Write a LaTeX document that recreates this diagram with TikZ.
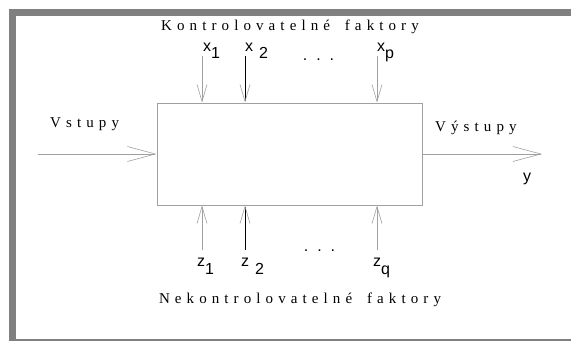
\documentclass[tikz,border=0pt]{standalone}
\usepackage{fontspec}
\setmainfont{Liberation Serif}
\newfontfamily\spacedserif[LetterSpace=34]{Liberation Serif}
\newfontfamily\labsans{Liberation Sans}
\usetikzlibrary{arrows.meta}
\definecolor{framegray}{HTML}{808080}
\definecolor{linegray}{HTML}{A0A0A0}
\tikzset{
  spacedlabel/.style={font=\spacedserif\fontsize{15}{17}\selectfont, inner sep=0pt},
  varlabel/.style={font=\labsans\fontsize{16}{18}\selectfont, inner sep=0pt},
  vtip/.style={-{Straight Barb[length=17pt,width=10pt,line width=0.6pt,color=linegray]}},
  htip/.style={-{Straight Barb[length=28pt,width=15pt,line width=0.6pt,color=linegray]}},
  flowline/.style={draw=linegray, line width=0.7pt},
  blackline/.style={draw=black, line width=0.5pt},
  sysbox/.style={draw=linegray, line width=0.9pt, minimum width=265pt, minimum height=102pt, inner sep=0pt},
}
\begin{document}
\begin{tikzpicture}[x=1pt,y=-1pt]
\useasboundingbox (0,0) rectangle (571,341);
% frame
\fill[framegray] (9,9) rectangle (571,16);
\fill[framegray] (9,9) rectangle (16,341);
\draw[framegray, line width=1.5pt] (9,340) -- (571,340);
% box
\node[sysbox] (sys) at (289.5,154) {};
% texts
\node[spacedlabel, anchor=base] (ktext) at (290,30) {Kontrolovatelné\hspace{6pt} faktory};
\node[spacedlabel, anchor=base] (ntext) at (300,303) {Nekontrolovatelné\hspace{6pt} faktory};
\node[spacedlabel, anchor=base west] (vin) at (50,127) {Vstupy};
\node[spacedlabel, anchor=base west] (vout) at (435,131) {Výstupy};
\node[varlabel, anchor=base west] (ylab) at (523,181) {y};
% top inputs
\coordinate (tx1) at (202,56);
\coordinate (tx2) at (245,56);
\coordinate (txp) at (377,56);
\node[varlabel, anchor=base west] (lx1) at (203,51) {x\raisebox{-7pt}{1}};
\node[varlabel, anchor=base west] (lx2) at (245,51) {x\hspace{6pt}\raisebox{-7pt}{2}};
\node[varlabel, anchor=base west] (lxp) at (377,51) {x\raisebox{-7pt}{p}};
\node[varlabel, anchor=base] (tdots) at (318.5,60) {.\hspace{9pt}.\hspace{9pt}.};
\draw[flowline, vtip] (tx1) -- (tx1 |- sys.north);
\draw[blackline, vtip] (tx2) -- (tx2 |- sys.north);
\draw[flowline, vtip] (txp) -- (txp |- sys.north);
% bottom disturbances
\coordinate (bz1) at (202,250);
\coordinate (bz2) at (245,250);
\coordinate (bzq) at (377,250);
\node[varlabel, anchor=base west] (lz1) at (197,266) {z\raisebox{-8pt}{1}};
\node[varlabel, anchor=base west] (lz2) at (241,266) {z\hspace{6pt}\raisebox{-8pt}{2}};
\node[varlabel, anchor=base west] (lzq) at (373,266) {z\raisebox{-8pt}{q}};
\node[varlabel, anchor=base] (bdots) at (319.5,251) {.\hspace{9pt}.\hspace{9pt}.};
\draw[flowline, vtip] (bz1) -- (bz1 |- sys.south);
\draw[blackline, vtip] (bz2) -- (bz2 |- sys.south);
\draw[flowline, vtip] (bzq) -- (bzq |- sys.south);
% input/output
\coordinate (inl) at (38,154);
\coordinate (outr) at (542,154);
\draw[flowline, htip] (inl) -- (sys.west);
\draw[flowline, htip] (sys.east) -- (outr);
\end{tikzpicture}
\end{document}
